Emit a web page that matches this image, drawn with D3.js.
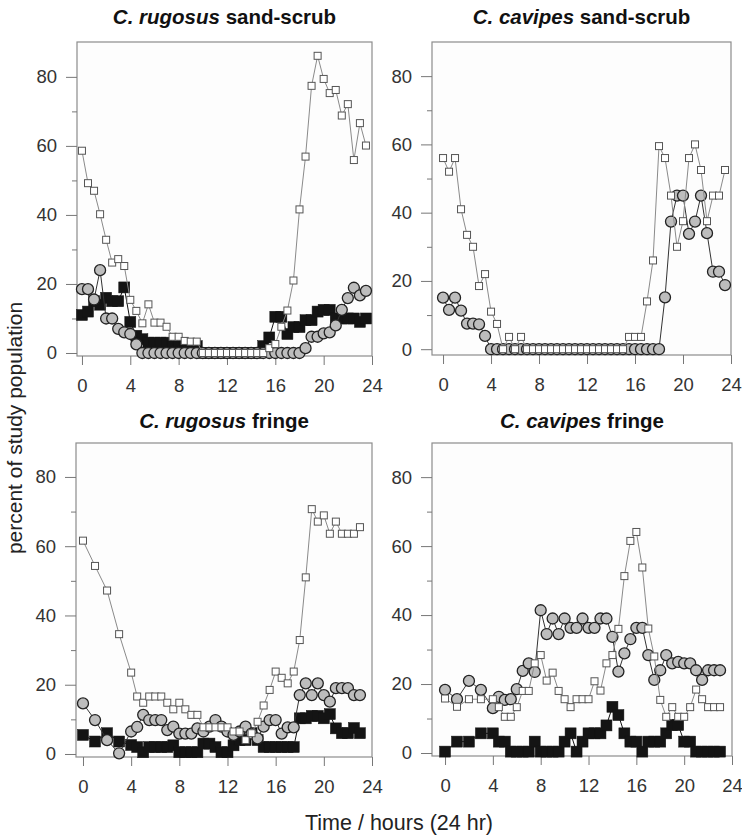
<!DOCTYPE html>
<html><head><meta charset="utf-8">
<script src="https://cdn.jsdelivr.net/npm/d3@7"></script>
<style>
body{margin:0;background:#fff}
svg{display:block}
text{font-family:"Liberation Sans",Arial,Helvetica,sans-serif}
</style>
</head><body>
<svg id="chart" width="742" height="836"></svg>
<script>
// ---------- data ----------
const halfHours = [0,0.5,1,1.5,2,2.5,3,3.5,4,4.5,5,5.5,6,6.5,7,7.5,8,8.5,9,9.5,10,10.5,11,11.5,
  12,12.5,13,13.5,14,14.5,15,15.5,16,16.5,17,17.5,18,18.5,19,19.5,20,20.5,21,21.5,22,22.5,23,23.5];
const fringeHours = [0,1,2,3,4,4.5,5,5.5,6,6.5,7,7.5,8,8.5,9,9.5,10,10.5,11,11.5,12,12.5,13,13.5,
  14,14.5,15,15.5,16,16.5,17,17.5,18,18.5,19,19.5,20,20.5,21,21.5,22,22.5,23];
const xTicks = [0,4,8,12,16,20,24];
const yTicks = [0,20,40,60,80];
const yMinorTicks = [10,30,50,70];

// C. rugosus sand-scrub
const rsOpen = [58.6,49.2,47,40.2,32.8,26.2,27.2,25.2,15.4,12.2,8.6,14.1,8.8,8.8,7.6,4.7,4.7,3.5,3.3,3.3,
  0,0,0,0,0,0,0,0,0,0,0,1.4,2.6,7.6,12.3,21,41.6,56.9,77.4,86.1,79.4,75.3,76.2,68.8,72.1,55.9,66.6,60.1];
const rsGray = [18.5,18.5,15.5,24,10,10,7,6,5.5,2.5,
  0,0,0,0,0,0,0,0,0,0,0,0,0,0,0,0,0,0,0,0,0,0,0,0,0,0,0,
  1.4,4.7,4.7,5.7,6,8,12.5,15.9,18.9,16.7,18];
const rsBlack = [11,12,15,14,16,15,15,19,9,5,4,3,3,3,3,2,2,2,2,2,
  0,0,0,0,0,0,0,0,0,0,2,4.5,10.5,10.5,5.5,7.5,7.5,9.5,9.5,12,12.5,12.5,10,10,10,10,9,10];

// C. cavipes sand-scrub
const csOpen = [56,52,56,41,33.5,30,18.5,22,11,7.4,0,3.6,0,3.6,
  0,0,0,0,0,0,0,0,0,0,0,0,0,0,0,0,0,3.6,3.6,3.6,14,26,59.5,56,45,30,37.5,56,60,52.5,37.5,45,45,52.5];
const csGray = [15.1,11.5,15.1,11.3,7.5,7.5,7.3,3.9,
  0,0,0,0,0,0,0,0,0,0,0,0,0,0,0,0,0,0,0,0,0,0,0,0,0,0,0,0,0,
  15.2,37.4,45,45,33.8,37.4,45,34,22.7,22.7,18.8];

// C. rugosus fringe
const rfOpen = [61.6,54.3,47.2,34.6,23.5,16.6,14.8,16.6,16.6,16.6,14.8,12.9,14.8,12.9,11.3,11.3,7.7,7.7,7.7,7.7,
  7.7,6.5,6.5,4,6,9.3,14,18.5,23.8,22,20.4,23.8,32.9,51,70.7,67.1,68.9,63.6,67.1,63.6,63.6,63.6,65.5];
const rfGray = [14.6,9.8,4,0.2,6.5,7.8,11.3,9.8,9.8,9.8,6.9,7.9,5.9,5.9,5.9,7.4,6.5,7.9,9.8,7.9,
  6.5,5.5,6.5,7.9,5.9,4.5,7.9,9.8,9.8,5.9,7.7,7.7,17,20.4,17,20.4,17,15.1,19,19,19,17,17];
const rfBlack = [5.5,3.6,6,3.6,2.6,2,0.5,2,2,2,2,2.5,0.5,0.5,0.5,0.5,3,3,2,0.5,
  0.5,2.5,4,4,6,4,2,2,2,2,2,2,10.3,10.3,11,11,10.3,11.5,7.4,6,6,7.5,6];

// C. cavipes fringe
const cfOpen = [15.8,13.4,15.6,15.6,15.6,13.3,10.5,10.5,13.3,18,18,26,28.4,21,23.3,18,15.6,13.3,15.6,15.6,
  15.6,20.8,18.1,26,28.4,36,51.3,61.5,64.1,53.8,36.1,28,15.4,10.5,13.3,10.5,10.5,13.3,18.4,15.6,13.3,13.3,13.3];
const cfGray = [18.3,15.6,20.9,18.3,13,16.3,15.4,15.6,18.5,23.8,26,23.5,41.4,34.5,39,34.5,39,36.3,36.3,39,
  36.3,36.3,39,39,33.7,23.6,28.9,33,36.3,36.3,28.4,21.2,24,28.4,26,26.4,26,26,24,21.2,24,24,24];
const cfBlack = [0.4,3.3,3.3,5.7,5.7,3.3,3.3,0.4,0.4,0.4,0.4,3.3,0.4,0.4,0.4,0.4,3.3,5.7,0.4,3.3,
  5.7,5.7,5.7,8,13.4,11,5.7,3.3,3.3,0.4,3.3,3.3,3.3,5.7,8.1,8.1,3.3,3.3,0.4,0.4,0.4,0.4,0.4];

// ---------- layout ----------
const panels = [
  {species:"C. rugosus", habitat:" sand-scrub", hours:halfHours, open:rsOpen, gray:rsGray, black:rsBlack,
   left:77, right:372, top:42, bottom:356, xMin:-0.41, yMin:-0.87, yMax:90.1, titleY:24},
  {species:"C. cavipes", habitat:" sand-scrub", hours:halfHours, open:csOpen, gray:csGray, black:null,
   left:432, right:731, top:42, bottom:355, xMin:-0.92, yMin:-1.7, yMax:90.0, titleY:24},
  {species:"C. rugosus", habitat:" fringe", hours:fringeHours, open:rfOpen, gray:rfGray, black:rfBlack,
   left:76, right:372, top:443, bottom:757, xMin:-0.58, yMin:-0.87, yMax:89.8, titleY:428},
  {species:"C. cavipes", habitat:" fringe", hours:fringeHours, open:cfOpen, gray:cfGray, black:cfBlack,
   left:432, right:732, top:443, bottom:756, xMin:-1.09, yMin:-0.87, yMax:89.9, titleY:428}
];

const svg = d3.select("#chart");
svg.append("rect").attr("width",742).attr("height",836).attr("fill","#fff");

panels.forEach(p => {
  const x = d3.scaleLinear().domain([p.xMin, 24]).range([p.left, p.right]);
  const y = d3.scaleLinear().domain([p.yMin, p.yMax]).range([p.bottom, p.top]);
  const g = svg.append("g");

  // frame
  g.append("rect").attr("x",p.left).attr("y",p.top)
    .attr("width",p.right-p.left).attr("height",p.bottom-p.top)
    .attr("fill","#fdfdfd").attr("stroke","#8c8c8c").attr("stroke-width",1.2);

  // y axis (major + minor ticks)
  const yAxis = d3.axisLeft(y).tickValues(yTicks).tickSize(11).tickPadding(9).tickFormat(d3.format("d"));
  const ya = g.append("g").attr("transform",`translate(${p.left},0)`).call(yAxis);
  ya.select(".domain").remove();
  ya.selectAll(".tick line").attr("stroke","#777");
  ya.selectAll(".tick text").attr("font-size",18.5).attr("fill","#333")
    .style("font-family",'"Liberation Sans",Arial,sans-serif');
  const yMinor = d3.axisLeft(y).tickValues(yMinorTicks).tickSize(5).tickFormat("");
  const ym = g.append("g").attr("transform",`translate(${p.left},0)`).call(yMinor);
  ym.select(".domain").remove();
  ym.selectAll(".tick line").attr("stroke","#777");

  // x axis
  const xAxis = d3.axisBottom(x).tickValues(xTicks).tickSize(9).tickPadding(14).tickFormat(d3.format("d"));
  const xa = g.append("g").attr("transform",`translate(0,${p.bottom})`).call(xAxis);
  xa.select(".domain").remove();
  xa.selectAll(".tick line").attr("stroke","#777");
  xa.selectAll(".tick text").attr("font-size",18.5).attr("fill","#333")
    .style("font-family",'"Liberation Sans",Arial,sans-serif');

  // title
  const t = g.append("text").attr("x",(p.left+p.right)/2).attr("y",p.titleY)
    .attr("text-anchor","middle").attr("font-size",20.5).attr("font-weight","bold").attr("fill","#111");
  t.append("tspan").attr("font-style","italic").text(p.species);
  t.append("tspan").text(p.habitat);

  const line = d3.line().x(d => x(d.t)).y(d => y(d.v));
  const pts = vals => p.hours.map((h,i) => ({t:h, v:vals[i]})).filter(d => d.v != null);

  // black squares
  if (p.black) {
    const d = pts(p.black);
    g.append("path").datum(d).attr("d",line).attr("fill","none").attr("stroke","#111").attr("stroke-width",1);
    g.selectAll(null).data(d).enter().append("rect")
      .attr("x",d => x(d.t)-5.5).attr("y",d => y(d.v)-5.5).attr("width",11).attr("height",11)
      .attr("fill","#141414").attr("stroke","#141414").attr("stroke-width",0.5);
  }
  // gray circles
  {
    const d = pts(p.gray);
    g.append("path").datum(d).attr("d",line).attr("fill","none").attr("stroke","#333").attr("stroke-width",1);
    g.selectAll(null).data(d).enter().append("circle")
      .attr("cx",d => x(d.t)).attr("cy",d => y(d.v)).attr("r",5.5)
      .attr("fill","#bdbdbd").attr("stroke","#222").attr("stroke-width",1.3);
  }
  // open squares
  {
    const d = pts(p.open);
    g.append("path").datum(d).attr("d",line).attr("fill","none").attr("stroke","#8a8a8a").attr("stroke-width",1);
    g.selectAll(null).data(d).enter().append("rect")
      .attr("x",d => x(d.t)-3.5).attr("y",d => y(d.v)-3.5).attr("width",7).attr("height",7)
      .attr("fill","#fff").attr("stroke","#555").attr("stroke-width",1);
  }
});

// axis titles
svg.append("text").attr("transform","translate(22,428) rotate(-90)")
  .attr("text-anchor","middle").attr("font-size",21).attr("fill","#222")
  .text("percent of study population");
svg.append("text").attr("x",399).attr("y",830)
  .attr("text-anchor","middle").attr("font-size",21.5).attr("fill","#222")
  .text("Time / hours (24 hr)");
</script>
</body></html>
